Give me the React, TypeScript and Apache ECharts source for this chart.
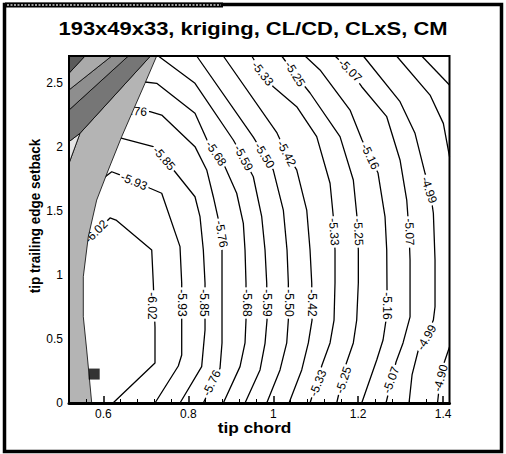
import React, { useEffect, useRef } from 'react';
import * as echarts from 'echarts';

// ---------- data (data coordinates: x = tip chord, y = tip trailing edge setback) ----------
const TITLE = '193x49x33, kriging, CL/CD, CLxS, CM';
const X_NAME = 'tip chord';
const Y_NAME = 'tip trailing edge setback';

const xTicks = [0.6, 0.8, 1, 1.2, 1.4];
const xMinorTicks = [0.56, 0.64, 0.68, 0.72, 0.76, 0.84, 0.88, 0.92, 0.96, 1.04, 1.08, 1.12, 1.16, 1.24, 1.28, 1.32, 1.36];

const levels = [-6.02, -5.93, -5.85, -5.76, -5.68, -5.59, -5.5, -5.42, -5.33, -5.25, -5.16, -5.07, -4.99, -4.9, -4.82];

const c602 = [[0.5543, 1.218], [0.5826, 1.336], [0.6156, 1.445], [0.6297, 1.429], [0.7138, 1.195], [0.7175, 0.937], [0.7215, 0.594], [0.7215, 0.312], [0.6226, 0]];
const c593 = [[0.5998, 1.755], [0.6196, 1.806], [0.6391, 1.781], [0.7098, 1.677], [0.7373, 1.638], [0.7804, 1.221], [0.7844, 0.937], [0.7844, 0.375], [0.7764, 0.289], [0.7215, 0]];
const c585 = [[0.6351, 2.075], [0.7175, 2.002], [0.7686, 1.806], [0.8157, 1.611], [0.8275, 1.455], [0.8353, 1.195], [0.8393, 0.937], [0.8393, 0.57], [0.8314, 0.284], [0.7804, 0]];
const c576 = [[0.6579, 2.288], [0.7098, 2.275], [0.7373, 2.249], [0.8157, 2.002], [0.8433, 1.82], [0.8588, 1.611], [0.8711, 1.429], [0.8781, 1.32], [0.8793, 1.195], [0.8793, 0.937], [0.8793, 0.469], [0.8746, 0.271], [0.8353, 0]];
const c568 = [[0.698, 2.507], [0.7255, 2.497], [0.8157, 2.263], [0.844, 2.054], [0.8864, 1.843], [0.9139, 1.638], [0.9295, 1.403], [0.9335, 1.195], [0.9358, 0.937], [0.9358, 0.648], [0.9335, 0.469], [0.9217, 0.284], [0.8824, 0]];
const c559 = [[0.7293, 2.71], [0.8157, 2.497], [0.9059, 2.054], [0.9299, 1.913], [0.953, 1.767], [0.9728, 1.455], [0.9806, 1.195], [0.9846, 0.937], [0.9853, 0.648], [0.9806, 0.466], [0.9688, 0.258], [0.9335, 0]];
const c550 = [[0.8197, 2.71], [0.953, 2.077], [0.9794, 1.933], [0.9999, 1.82], [1.0237, 1.507], [1.0324, 1.195], [1.0355, 0.937], [1.0355, 0.648], [1.0317, 0.469], [1.0159, 0.258], [0.9846, 0]];
const c542 = [[0.8824, 2.71], [1.0088, 2.109], [1.0312, 1.949], [1.0552, 1.82], [1.0788, 1.507], [1.0866, 1.195], [1.0906, 0.937], [1.0913, 0.648], [1.0826, 0.469], [1.067, 0.258], [1.0371, 0]];
const c533 = [[0.9493, 2.71], [0.9747, 2.573], [1.0001, 2.47], [1.0552, 2.314], [1.1023, 2.08], [1.1337, 1.716], [1.1414, 1.455], [1.1454, 1.195], [1.1454, 0.937], [1.1431, 0.648], [1.1337, 0.469], [1.1148, 0.297], [1.0866, 0]];
const c525 = [[1.0199, 2.71], [1.0512, 2.569], [1.0866, 2.421], [1.1572, 2.08], [1.1885, 1.742], [1.1972, 1.453], [1.2003, 1.195], [1.2003, 0.937], [1.1965, 0.648], [1.1885, 0.469], [1.169, 0.281], [1.1494, 0]];
const c516 = [[1.0748, 2.71], [1.1101, 2.601], [1.1808, 2.288], [1.209, 2.054], [1.2467, 1.796], [1.2632, 1.453], [1.2672, 1.195], [1.2679, 0.859], [1.2656, 0.648], [1.2585, 0.492], [1.2436, 0.336], [1.2083, 0]];
const c507 = [[1.1454, 2.71], [1.1808, 2.597], [1.2083, 2.47], [1.2672, 2.236], [1.2985, 1.898], [1.3143, 1.585], [1.3197, 1.336], [1.3221, 1.117], [1.3221, 0.672], [1.3056, 0.469], [1.2891, 0.32], [1.2655, 0]];
const c499 = [[1.2121, 2.71], [1.2985, 2.353], [1.3338, 2.106], [1.3574, 1.794], [1.3692, 1.664], [1.377, 1.482], [1.3809, 1.117], [1.3809, 0.752], [1.377, 0.648], [1.3609, 0.512], [1.3416, 0.414], [1.3268, 0.219], [1.3197, 0]];
const c490a = [[1.2903, 2.71], [1.3692, 2.405], [1.4005, 2.184], [1.415, 1.924]];
const c490b = [[1.415, 0.437], [1.4005, 0.297], [1.3927, 0.18], [1.3868, 0]];
const c482 = [[1.3496, 2.71], [1.415, 2.484]];

const contourLines = [c602, c593, c585, c576, c568, c559, c550, c542, c533, c525, c516, c507, c499, c490a, c490b, c482];

// label anchors: [x, y, angle(deg), level index]
const labelAnchors = [
  [0.5826, 1.339, 45, 0], [0.7156, 0.758, -90, 0],
  [0.6721, 1.73, -23, 1], [0.7844, 0.781, -90, 1],
  [0.7427, 1.91, -49, 2], [0.8369, 0.781, -90, 2],
  [0.6704, 2.281, -5, 3], [0.8781, 1.32, -80, 3], [0.8546, 0.156, 64, 3],
  [0.8652, 1.949, -56, 4], [0.937, 0.781, -90, 4],
  [0.9299, 1.913, -62, 5], [0.9853, 0.781, -90, 5],
  [0.9794, 1.933, -59, 6], [1.0359, 0.781, -90, 6],
  [1.0312, 1.949, -62, 7], [1.0901, 0.781, -90, 7],
  [0.9747, 2.573, -52, 8], [1.1431, 1.336, -86, 8], [1.1054, 0.156, 68, 8],
  [1.0512, 2.569, -58, 9], [1.2006, 1.336, -87, 9], [1.1654, 0.18, 72, 9],
  [1.2279, 1.925, -64, 10], [1.2667, 0.758, -90, 10],
  [1.1808, 2.597, -45, 11], [1.3209, 1.336, -88, 11], [1.2773, 0.18, 70, 11],
  [1.3668, 1.664, -72, 12], [1.3609, 0.512, 60, 12],
  [1.3939, 0.195, 75, 13],
];

// flooded regions (left side)
const regionStrip = [[0.7109, 2.71], [0.7255, 2.71], [0.698, 2.497], [0.6704, 2.288], [0.6431, 2.08], [0.6116, 1.82], [0.5842, 1.585], [0.5645, 1.299], [0.5527, 0.986], [0.5527, 0.674], [0.5607, 0.414], [0.5725, 0], [0.519, 0], [0.519, 1.872], [0.5449, 2.106]];
const regionE = [[0.519, 2.041], [0.5449, 2.106], [0.519, 1.872]];
const regionD = [[0.6587, 2.71], [0.7109, 2.71], [0.5449, 2.106], [0.519, 2.041], [0.519, 2.288]];
const regionC = [[0.6196, 2.71], [0.6587, 2.71], [0.519, 2.288], [0.519, 2.445]];
const regionB = [[0.5567, 2.71], [0.6196, 2.71], [0.519, 2.445], [0.519, 2.575]];
const regionA = [[0.519, 2.71], [0.5567, 2.71], [0.519, 2.575]];
const regions = [regionStrip, regionE, regionD, regionC, regionB, regionA];
const regionColors = ['#b4b4b4', '#e4e4e4', '#767676', '#8e8e8e', '#aaaaaa', '#5a5a5a'];

const optimum = [[0.5783, 0.226]];

const FONT = '"Liberation Sans", Arial, Helvetica, sans-serif';

export default function App() {
  const ref = useRef<HTMLDivElement>(null);
  useEffect(() => {
    if (!ref.current) return;
    const chart = echarts.init(ref.current, null, { renderer: 'svg' });
    const xMin = 0.519;
    const xMax = 1.415;

    const lineSeries = contourLines.map((c) => ({
      type: 'line',
      data: c,
      showSymbol: false,
      symbol: 'none',
      lineStyle: { color: '#000', width: 1.3 },
      z: 2,
      silent: true,
      clip: true,
    }));

    const option: any = {
      animation: false,
      backgroundColor: '#fff',
      grid: { left: 69, top: 56, right: 56.5, bottom: 51, outerBoundsMode: 'none', containLabel: false },
      xAxis: [
        {
          type: 'value', min: xMin, max: xMax, position: 'bottom', z: 10,
          axisLine: { show: true, onZero: false, lineStyle: { color: '#000', width: 3 } },
          axisTick: { show: true, inside: true, length: 7, customValues: xTicks, lineStyle: { color: '#000', width: 1.5 } },
          axisLabel: { customValues: xTicks, color: '#000', fontSize: 12, fontFamily: FONT, margin: 5 },
          splitLine: { show: false },
        },
        {
          type: 'value', min: xMin, max: xMax, position: 'bottom', z: 10,
          axisLine: { show: false },
          axisTick: { show: true, inside: true, length: 4, customValues: xMinorTicks, lineStyle: { color: '#000', width: 1 } },
          axisLabel: { show: false },
          splitLine: { show: false },
        },
      ],
      yAxis: {
        type: 'value', min: 0, max: 2.71, interval: 0.5,
        axisLine: { show: false },
        axisTick: { show: false },
        axisLabel: { color: '#000', fontSize: 12, fontFamily: FONT, margin: 6, showMaxLabel: false },
        splitLine: { show: false },
      },
      series: [
        ...lineSeries,
        {
          type: 'custom',
          coordinateSystem: 'cartesian2d',
          z: 3,
          silent: true,
          data: labelAnchors.map((a) => [a[0], a[1]]),
          renderItem: (params: any, api: any) => {
            const a = labelAnchors[params.dataIndex];
            const p = api.coord([a[0], a[1]]);
            return {
              type: 'text',
              x: p[0],
              y: p[1],
              rotation: (a[2] * Math.PI) / 180,
              style: {
                text: levels[a[3]].toFixed(2),
                fill: '#000',
                font: `12px ${FONT}`,
                align: 'center',
                verticalAlign: 'middle',
                backgroundColor: '#fff',
                padding: [0, 2],
              },
            };
          },
        },
        {
          type: 'custom',
          coordinateSystem: 'cartesian2d',
          z: 4,
          silent: true,
          clip: true,
          data: regions.map((r) => r[0]),
          renderItem: (params: any, api: any) => {
            const pts = regions[params.dataIndex].map((p) => api.coord(p));
            return {
              type: 'polygon',
              shape: { points: pts },
              style: { fill: regionColors[params.dataIndex], stroke: '#000', lineWidth: 0.8 },
            };
          },
        },
        {
          type: 'scatter',
          data: optimum,
          symbol: 'rect',
          symbolSize: 11,
          itemStyle: { color: '#000' },
          z: 5,
          silent: true,
        },
      ],
      graphic: [
        { type: 'rect', z: 100, silent: true, shape: { x: 69, y: 56, width: 380.5, height: 347 }, style: { fill: 'none', stroke: '#000', lineWidth: 2 } },
        { type: 'rect', z: 100, silent: true, shape: { x: 4.5, y: 4.5, width: 497, height: 447 }, style: { fill: 'none', stroke: '#000', lineWidth: 3.5 } },
        { type: 'rect', z: 101, silent: true, shape: { x: 5, y: 2.5, width: 218, height: 5 }, style: { fill: '#000' } },
        { type: 'line', z: 102, silent: true, shape: { x1: 7, y1: 5, x2: 221, y2: 5 }, style: { stroke: '#cfcfcf', lineWidth: 1.5, lineDash: [2, 1.5] } },
        {
          type: 'text', z: 101, silent: true, x: 253, y: 29, scaleX: 1.22,
          style: { text: TITLE, font: `bold 18px ${FONT}`, fill: '#000', align: 'center', verticalAlign: 'middle' },
        },
        {
          type: 'text', z: 101, silent: true, x: 254.5, y: 428, scaleX: 1.19,
          style: { text: X_NAME, font: `bold 14.5px ${FONT}`, fill: '#000', align: 'center', verticalAlign: 'middle' },
        },
        {
          type: 'text', z: 101, silent: true, x: 34.5, y: 216, rotation: Math.PI / 2, scaleY: 1.15,
          style: { text: Y_NAME, font: `bold 13.5px ${FONT}`, fill: '#000', align: 'center', verticalAlign: 'middle' },
        },
      ],
    };
    chart.setOption(option);
    return () => chart.dispose();
  }, []);
  return <div ref={ref} style={{ position: 'absolute', left: 0, top: 0, width: 506, height: 454 }} />;
}
